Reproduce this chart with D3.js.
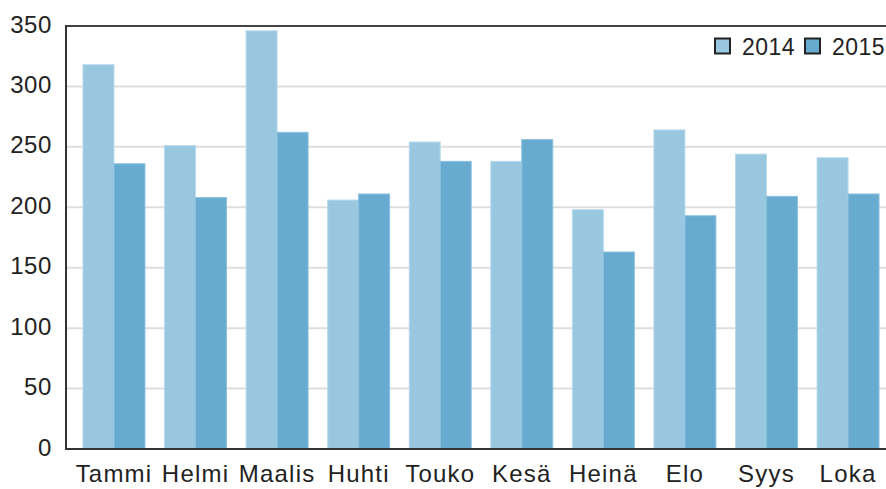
<!DOCTYPE html>
<html><head><meta charset="utf-8">
<script src="https://cdn.jsdelivr.net/npm/d3@7/dist/d3.min.js"></script>
<style>body{margin:0;background:#fff}svg{display:block}text{font-family:"Liberation Sans",Arial,sans-serif;fill:#222}</style>
</head><body>
<script>
const categories = ["Tammi","Helmi","Maalis","Huhti","Touko","Kesä","Heinä","Elo","Syys","Loka"];
const series2014 = [318, 251, 346, 206, 254, 238, 198, 264, 244, 241];
const series2015 = [236, 208, 262, 211, 238, 256, 163, 193, 209, 211];
const seriesNames = ["2014","2015"];
const yTicks = [0,50,100,150,200,250,300,350];
const colors = ["#9ac7e0","#67abd1"];

const W = 886, H = 489;
const svg = d3.select("body").append("svg").attr("width", W).attr("height", H);
const plotLeft = 66, plotTop = 26, plotBottom = 449;

const x = d3.scaleBand().domain(categories).range([plotLeft, 896]).paddingInner(0.24).paddingOuter(0.208);
const xs = d3.scaleBand().domain(seriesNames).range([0, x.bandwidth()]);
const y = d3.scaleLinear().domain([0, 350]).range([plotBottom, plotTop]);

// gridlines
svg.append("g").selectAll("line").data(yTicks.filter(d => d > 0 && d < 350)).join("line")
  .attr("x1", plotLeft).attr("x2", W).attr("y1", d => y(d)).attr("y2", d => y(d))
  .attr("stroke", "#dedede").attr("stroke-width", 2);

// bars
const data = [series2014, series2015];
const g = svg.append("g");
seriesNames.forEach((s, si) => {
  g.append("g").selectAll("rect").data(categories).join("rect")
    .attr("x", c => x(c) + xs(s))
    .attr("width", xs.bandwidth())
    .attr("y", (c, i) => y(data[si][i]))
    .attr("height", (c, i) => y(0) - y(data[si][i]))
    .attr("fill", colors[si])
    .attr("stroke", si === 0 ? "#b8daec" : "#8cc0de").attr("stroke-width", 1);
});

// frame
svg.append("line").attr("x1", plotLeft).attr("x2", W).attr("y1", plotTop).attr("y2", plotTop).attr("stroke", "#444").attr("stroke-width", 2);
svg.append("line").attr("x1", plotLeft).attr("x2", plotLeft).attr("y1", plotTop - 1).attr("y2", plotBottom + 1).attr("stroke", "#333").attr("stroke-width", 2);
svg.append("line").attr("x1", plotLeft).attr("x2", W).attr("y1", plotBottom).attr("y2", plotBottom).attr("stroke", "#333").attr("stroke-width", 2);

// y axis labels
const yAxis = d3.axisLeft(y).tickValues(yTicks).tickSize(0).tickPadding(14);
const ya = svg.append("g").attr("transform", `translate(${plotLeft},0)`).call(yAxis);
ya.select(".domain").remove();
ya.selectAll("text").style("font-size", "24px").attr("fill", "#222").attr("dy", "0.25em")
  .style("letter-spacing", "0.6px")
  .style("font-family", '"Liberation Sans",Arial,sans-serif');

// x axis labels
const xAxis = d3.axisBottom(x).tickSize(0).tickPadding(15);
const xa = svg.append("g").attr("transform", `translate(0,${plotBottom})`).call(xAxis);
xa.select(".domain").remove();
xa.selectAll("text").style("font-size", "24px").attr("fill", "#222").attr("dy", "0.75em")
  .style("letter-spacing", "1.2px")
  .style("font-family", '"Liberation Sans",Arial,sans-serif');

// legend
const lg = svg.append("g");
const legX = [714, 804];
seriesNames.forEach((s, i) => {
  lg.append("rect").attr("x", legX[i] + 1).attr("y", 38.5).attr("width", 15).attr("height", 15)
    .attr("fill", colors[i]).attr("stroke", "#222").attr("stroke-width", 2);
  lg.append("text").attr("x", legX[i] + 28).attr("y", 55).text(s).style("font-size", "23px")
    .style("letter-spacing", "0.5px");
});
</script>
</body></html>
